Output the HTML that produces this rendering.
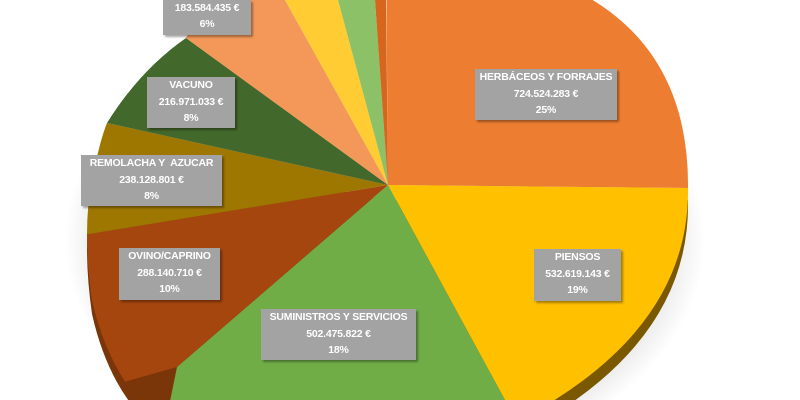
<!DOCTYPE html>
<html><head><style>
html,body{margin:0;padding:0;background:#fff;width:800px;height:400px;overflow:hidden;position:relative;font-family:"Liberation Sans",sans-serif}
.b{position:absolute;background:#a3a3a3;color:#fff;font-weight:bold;font-size:10.5px;line-height:16.5px;text-align:center;box-shadow:2px 2px 2px rgba(0,0,0,.35);letter-spacing:-0.2px;white-space:nowrap;overflow:hidden}
</style></head><body>
<svg width="800" height="400" style="position:absolute;left:0;top:0">
<defs>
<clipPath id="top"><path d="M386,-50 Q690,-40 688,188 Q690,330 520,420 L160,420 Q110,380 92,300 Q82,230 92,180 Q100,140 107,123 Q140,70 186,38 L230,-50 Z"/></clipPath>
<clipPath id="side"><path transform="translate(0,14)" d="M386,-50 Q690,-40 688,188 Q690,330 520,420 L160,420 Q110,380 92,300 Q82,230 92,180 Q100,140 107,123 Q140,70 186,38 L230,-50 Z"/></clipPath>
<radialGradient id="sh" cx="0.5" cy="0.5" r="0.5"><stop offset="0.85" stop-color="#e2e2e2"/><stop offset="1" stop-color="#fff"/></radialGradient>
</defs>
<ellipse cx="385" cy="240" rx="320" ry="230" fill="url(#sh)"/>
<g clip-path="url(#side)">
<polygon points="388,200 700,200 700,430 505,430" fill="#7a5800"/>
<polygon points="388,200 505,430 177,430" fill="#3f6a24"/>
<polygon points="388,200 177,430 60,430 60,240" fill="#7a3509"/>
<polygon points="388,200 60,240 60,140" fill="#6e5600"/>
</g>
<g clip-path="url(#top)">
<polygon points="388,185 386,-60 900,-60 900,188 688,188" fill="#ED7D31"/>
<polygon points="388,185 688,188 900,188 900,450 520,450 505,400" fill="#FFC000"/>
<polygon points="388,185 505,400 520,450 160,450 177,367" fill="#70AD47"/>
<polygon points="388,185 177,367 60,400 60,234 89,234" fill="#A5460F"/>
<polygon points="388,185 89,234 60,234 60,123 107,123" fill="#9E7700"/>
<polygon points="388,185 107,123 60,123 60,30 186,38" fill="#43682B"/>
<polygon points="388,185 186,38 150,-60 285,-60 285,0" fill="#F4985A"/>
<polygon points="388,185 285,0 285,-60 338,-60 338,0" fill="#FFCD33"/>
<polygon points="388,185 338,0 338,-60 375,-60 375,0" fill="#8CC168"/>
<polygon points="388,185 375,0 375,-60 386,-60 386,0" fill="#D8651C"/>
</g>
</svg>
<div class="b" style="left:163px;top:0;width:88px;height:35px;line-height:16px">183.584.435 €<br>6%</div>
<div class="b" style="left:475px;top:69px;width:142px;height:51px">HERBÁCEOS Y FORRAJES<br>724.524.283 €<br>25%</div>
<div class="b" style="left:147px;top:77px;width:88px;height:51px">VACUNO<br>216.971.033 €<br>8%</div>
<div class="b" style="left:81px;top:155px;width:141px;height:51px">REMOLACHA Y&nbsp; AZUCAR<br>238.128.801 €<br>8%</div>
<div class="b" style="left:534px;top:249px;width:87px;height:52px">PIENSOS<br>532.619.143 €<br>19%</div>
<div class="b" style="left:119px;top:248px;width:101px;height:52px">OVINO/CAPRINO<br>288.140.710 €<br>10%</div>
<div class="b" style="left:261px;top:309px;width:155px;height:51px">SUMINISTROS Y SERVICIOS<br>502.475.822 €<br>18%</div>
</body></html>
